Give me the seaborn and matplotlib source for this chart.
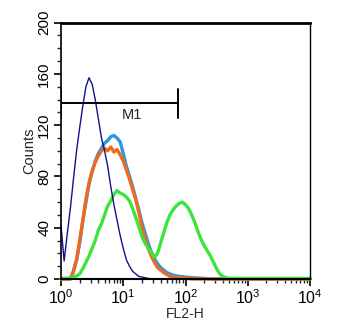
import numpy as np
import pandas as pd
import matplotlib
matplotlib.use("Agg")
import matplotlib.pyplot as plt
import seaborn as sns
from matplotlib.ticker import LogLocator, NullFormatter, FixedLocator, MultipleLocator

sns.set_theme(style="white")
plt.rcParams['font.family'] = ['Liberation Sans', 'DejaVu Sans']
plt.rcParams['mathtext.fontset'] = 'custom'
plt.rcParams['mathtext.rm'] = 'Liberation Sans'

# channel positions in decades (log10 of FL2-H)
log_channel = [0.00, 0.05, 0.10, 0.15, 0.20, 0.25, 0.30, 0.35, 0.40, 0.45,
               0.50, 0.55, 0.60, 0.65, 0.70, 0.75, 0.80, 0.85, 0.90, 0.95,
               1.00, 1.05, 1.10, 1.15, 1.20, 1.25, 1.30, 1.35, 1.40, 1.45,
               1.50, 1.55, 1.60, 1.65, 1.70, 1.75, 1.80, 1.85, 1.90, 1.95,
               2.00, 2.05, 2.10, 2.15, 2.20, 2.25, 2.30, 2.35, 2.40, 2.45,
               2.50, 2.55, 2.60, 2.65, 2.70, 2.75, 2.80, 2.90, 3.00, 4.00]

isotype = [42, 14, 35, 55, 78, 100, 118, 135, 150, 157,
           152, 140, 125, 110, 100, 88, 72, 58, 46, 34,
           24, 15, 10, 6, 4, 2, 1.5, 1, 0.5, 0,
           0, 0, 0, 0, 0, 0, 0, 0, 0, 0,
           0, 0, 0, 0, 0, 0, 0, 0, 0, 0,
           0, 0, 0, 0, 0, 0, 0, 0, 0, 0]

control_a = [0, 0, 0, 0, 6, 15, 28, 45, 60, 74,
             84, 92, 98, 102, 106, 108, 111, 112, 110, 107,
             98, 88, 80, 72, 63, 54, 44, 36, 28, 21,
             16, 12, 9, 7, 5, 4, 3, 2.5, 2, 1.8,
             1.5, 1.2, 1, 0.9, 0.8, 0.6, 0.5, 0.3, 0, 0,
             0, 0, 0, 0, 0, 0, 0, 0, 0, 0]

control_b = [0, 0, 0, 0, 6, 15, 30, 46, 62, 75,
             84, 91, 96, 100, 102, 100, 103, 99, 101, 97,
             92, 85, 78, 70, 62, 52, 40, 32, 24, 18,
             13, 9, 7, 5, 3.5, 2, 1.5, 1.2, 1, 0.8,
             0.5, 0.3, 0, 0, 0, 0, 0, 0, 0, 0,
             0, 0, 0, 0, 0, 0, 0, 0, 0, 0]

stained = [0.5, 0.5, 0.5, 1, 1.5, 2.5, 4, 8, 13, 18,
           24, 30, 38, 43, 50, 57, 61, 66, 69, 67,
           66, 64, 61, 55, 48, 41, 33, 28, 24, 21,
           17, 20, 28, 36, 44, 50, 54, 57, 59, 60,
           58, 55, 50, 44, 37, 31, 26, 22, 18, 13,
           8, 4, 2, 1, 0.5, 0.5, 0.5, 0.5, 0.5, 0.5]

m1_range = [1, 76]
m1_level = 137

df = pd.DataFrame({"FL2": np.power(10.0, log_channel),
                   "isotype": isotype, "control_a": control_a,
                   "control_b": control_b, "stained": stained})

fig = plt.figure(figsize=(3.47, 3.36), dpi=100)
ax = fig.add_axes([0.1758, 0.1696, 0.7176, 0.763])

styles = [("control_a", "#2c97e0", 2.4),
          ("control_b", "#f0691e", 2.4),
          ("stained", "#3de43d", 2.4),
          ("isotype", "#12128c", 1.0)]
for col, c, lw in styles:
    sns.lineplot(data=df, x="FL2", y=col, color=c, linewidth=lw, ax=ax, clip_on=False)

ax.set_xscale("log")
ax.set_xlim(1, 1e4)
ax.set_ylim(0, 200)

# M1 marker
ax.plot(m1_range, [m1_level, m1_level], color="black", lw=1.4)
for xv in m1_range:
    ax.plot([xv, xv], [m1_level - 11, m1_level + 11], color="black", lw=1.4)
ax.text(np.sqrt(m1_range[0] * m1_range[1]) * 1.6, m1_level - 9, "M1",
        ha="center", va="center", fontsize=10.5)

ax.xaxis.set_major_locator(FixedLocator([1, 10, 100, 1000, 10000]))
ax.set_xticklabels([r"$\mathregular{10^{%d}}$" % i for i in range(5)], fontsize=11.5)
ax.xaxis.set_minor_locator(LogLocator(base=10, subs=np.arange(2, 10)))
ax.xaxis.set_minor_formatter(NullFormatter())
ax.yaxis.set_major_locator(FixedLocator([0, 40, 80, 120, 160, 200]))
ax.yaxis.set_minor_locator(MultipleLocator(10))
ax.set_yticklabels(["0", "40", "80", "120", "160", "200"], rotation=90,
                   va="center", fontsize=11)

ax.tick_params(axis="both", which="major", direction="out", length=5, width=1.2,
               bottom=True, left=True, pad=2, colors="black")
ax.tick_params(axis="both", which="minor", direction="out", length=3, width=1.0,
               bottom=True, left=True)

for side in ["left", "bottom", "right", "top"]:
    ax.spines[side].set_visible(True)
    ax.spines[side].set_color("black")
ax.spines["top"].set_linewidth(2.0)
ax.spines["left"].set_linewidth(1.2)
ax.spines["bottom"].set_linewidth(1.5)
ax.spines["right"].set_linewidth(1.0)

ax.set_xlabel("FL2-H", fontsize=10, labelpad=0)
ax.set_ylabel("Counts", fontsize=10.5, labelpad=1)

fig.savefig("out.png", dpi=100)
